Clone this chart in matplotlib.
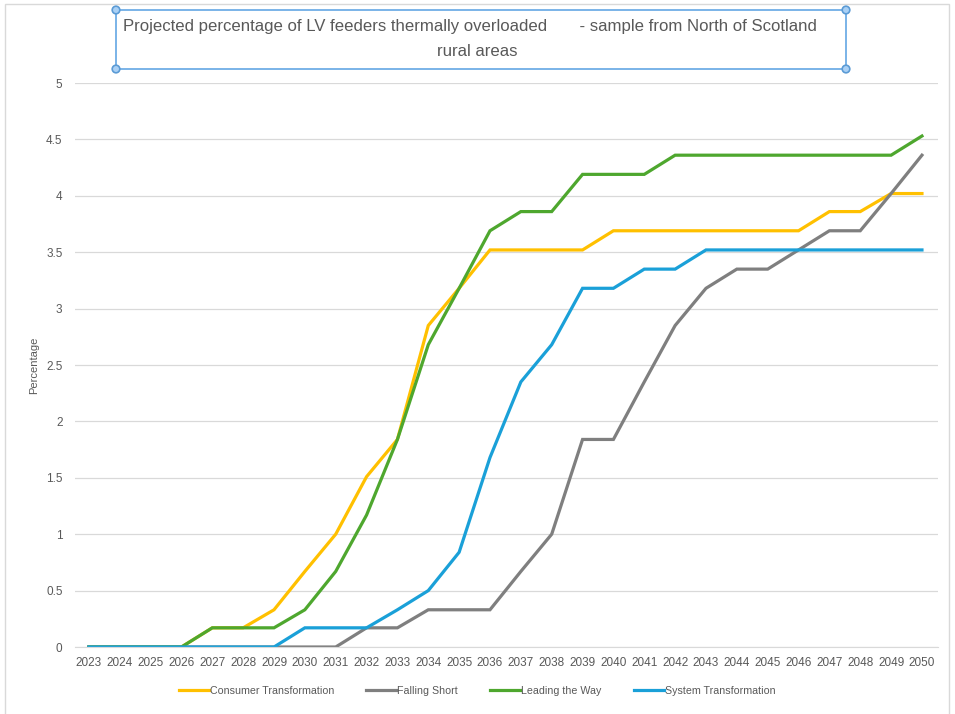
import matplotlib.pyplot as plt
from matplotlib.patches import Rectangle, Circle

years = list(range(2023, 2051))

consumer = [0, 0, 0, 0, 0.17, 0.17, 0.33, 0.67, 1.0, 1.51, 1.84, 2.85, 3.18, 3.52,
            3.52, 3.52, 3.52, 3.69, 3.69, 3.69, 3.69, 3.69, 3.69, 3.69, 3.86, 3.86, 4.02, 4.02]
falling = [0, 0, 0, 0, 0, 0, 0, 0, 0, 0.17, 0.17, 0.33, 0.33, 0.33,
           0.67, 1.0, 1.84, 1.84, 2.35, 2.85, 3.18, 3.35, 3.35, 3.52, 3.69, 3.69, 4.02, 4.36]
leading = [0, 0, 0, 0, 0.17, 0.17, 0.17, 0.33, 0.67, 1.17, 1.84, 2.68, 3.18, 3.69,
           3.86, 3.86, 4.19, 4.19, 4.19, 4.36, 4.36, 4.36, 4.36, 4.36, 4.36, 4.36, 4.36, 4.53]
system = [0, 0, 0, 0, 0, 0, 0, 0.17, 0.17, 0.17, 0.33, 0.5, 0.84, 1.68,
          2.35, 2.68, 3.18, 3.18, 3.35, 3.35, 3.52, 3.52, 3.52, 3.52, 3.52, 3.52, 3.52, 3.52]

series = {
    'Consumer Transformation': consumer,
    'Falling Short': falling,
    'Leading the Way': leading,
    'System Transformation': system,
}
colors = ['#FFC000', '#7F7F7F', '#4EA72E', '#1AA0D8']
yticks = [0, 0.5, 1, 1.5, 2, 2.5, 3, 3.5, 4, 4.5, 5]

title_line1 = 'Projected percentage of LV feeders thermally overloaded       - sample from North of Scotland'
title_line2 = 'rural areas'

plt.rcParams['font.family'] = ['Liberation Sans', 'DejaVu Sans']
txt = '#595959'

W, H = 955, 714
fig = plt.figure(figsize=(W / 100, H / 100), dpi=100)
ax = fig.add_axes([75 / W, 1 - 647 / H, (938 - 75) / W, (647 - 83) / H])

for i, (name, vals) in enumerate(series.items()):
    ax.plot(years, vals, color=colors[i], lw=2.3, label=name, solid_joinstyle='miter')

ax.set_ylim(0, 5)
ax.set_xlim(2022.55, 2050.52)
ax.set_yticks(yticks)
ax.set_yticklabels([f'{v:g}' for v in yticks])
ax.set_xticks(years)
ax.set_xticklabels([str(y) for y in years])
ax.tick_params(axis='both', length=0, colors=txt, labelsize=8.5)
ax.tick_params(axis='y', pad=9)
ax.tick_params(axis='x', pad=7)
ax.grid(axis='y', color='#D9D9D9', lw=0.9)
ax.set_axisbelow(True)
for s in ['top', 'right', 'left']:
    ax.spines[s].set_visible(False)
ax.spines['bottom'].set_color('#D9D9D9')
ax.set_ylabel('Percentage', color=txt, fontsize=8)
ax.yaxis.set_label_coords(-36 / (938 - 75), 0.5)

# outer frame
fig.patches.append(Rectangle((5 / W, -0.01), (949 - 5) / W, 1.01 - 4 / H,
                             transform=fig.transFigure, fill=False, ec='#D9D9D9', lw=1))

# title box with handles
bx0, bx1, by0, by1 = 116 / W, 846 / W, 1 - 69 / H, 1 - 10 / H
fig.patches.append(Rectangle((bx0, by0), bx1 - bx0, by1 - by0, transform=fig.transFigure,
                             fill=False, ec='#6FAEE6', lw=1.3))
for cx, cy in [(bx0, by0), (bx0, by1), (bx1, by0), (bx1, by1)]:
    fig.patches.append(Circle((cx * W, cy * H), 3.8, transform=None, fc='#A9D0F5',
                              ec='#5B9BD5', lw=1.2, zorder=5))
fig.text(470 / W, 1 - 27 / H, title_line1, ha='center', va='center', color=txt, fontsize=12.1)
fig.text(477 / W, 1 - 52 / H, title_line2, ha='center', va='center', color=txt, fontsize=12.1)

fig.legend(loc='center', bbox_to_anchor=(477 / W, 1 - 691 / H), ncol=4, frameon=False,
           fontsize=7.7, handlelength=2.8, handletextpad=0.1, columnspacing=3.0, labelcolor=txt)

fig.savefig('out.png', dpi=100)
